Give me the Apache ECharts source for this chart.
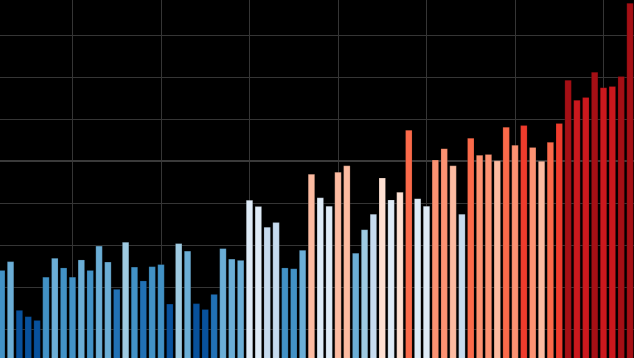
<!DOCTYPE html>
<html>
<head>
<meta charset="utf-8">
<style>
html,body{margin:0;padding:0;background:#000;width:634px;height:358px;overflow:hidden;position:relative;}
#chart{position:absolute;left:-16px;top:-7px;width:708px;height:378px;}
</style>
<script src="https://cdn.jsdelivr.net/npm/echarts@6/dist/echarts.min.js"></script>
</head>
<body>
<div id="chart"></div>
<script>
// Years shown (one bar per year)
const years = [];
for (let y = 1952; y <= 2023; y++) years.push(y);

// Annual mean temperature (°C)
const temps = [
  13.740, 13.761, 13.645, 13.630, 13.621, 13.724, 13.769, 13.746, 13.724, 13.765,
  13.740, 13.798, 13.760, 13.695, 13.807, 13.748, 13.715, 13.749, 13.754, 13.660,
  13.804, 13.786, 13.661, 13.647, 13.683, 13.792, 13.767, 13.764, 13.907, 13.892,
  13.843, 13.854, 13.746, 13.744, 13.788, 13.969, 13.913, 13.893, 13.974, 13.989,
  13.781, 13.837, 13.874, 13.960, 13.908, 13.926, 14.074, 13.911, 13.893, 14.003,
  14.030, 13.989, 13.874, 14.055, 14.014, 14.016, 14.001, 14.081, 14.038, 14.085,
  14.033, 14.000, 14.045, 14.090, 14.193, 14.145, 14.152, 14.212, 14.175, 14.178,
  14.202, 14.376
];

// Colour classes (stripe palette) and their temperature bounds
const classBounds = [13.665, 13.72, 13.757, 13.8, 13.84, 13.88, 13.92, 13.965, 14.002, 14.04, 14.083, 14.14, 14.19];
const classColors = ['#08519c', '#2171b5', '#4292c6', '#6baed6', '#9ecae1', '#c6dbef', '#deebf7',
                     '#fee0d2', '#fcbba1', '#fc9272', '#fb6a4a', '#ef3b2c', '#cb181d', '#a50f15'];

const pieces = classColors.map((c, i) => {
  const p = { color: c };
  if (i > 0) p.gte = classBounds[i - 1];
  if (i < classBounds.length) p.lt = classBounds[i];
  return p;
});

const chart = echarts.init(document.getElementById('chart'), null, { renderer: 'canvas' });
chart.setOption({
  backgroundColor: '#000',
  animation: false,
  grid: { left: 0, right: 0, top: 0, bottom: 0, containLabel: false },
  xAxis: {
    type: 'value', min: 1950, max: 2030, interval: 10,
    axisLine: { show: false }, axisTick: { show: false }, axisLabel: { show: false },
    splitLine: { show: true, lineStyle: { color: '#353535', width: 1 } }
  },
  yAxis: {
    type: 'value', min: 13.5, max: 14.4, interval: 0.1,
    axisLine: { show: false }, axisTick: { show: false }, axisLabel: { show: false },
    splitLine: { show: true, lineStyle: { color: '#353535', width: 1 } }
  },
  visualMap: {
    type: 'piecewise', show: false, dimension: 1, seriesIndex: 0,
    pieces: pieces
  },
  series: [{
    type: 'bar',
    barWidth: 7,
    data: years.map((y, i) => [y, temps[i]]),
    itemStyle: { borderColor: 'rgba(0,0,0,0.35)', borderWidth: 0.5 },
    markLine: {
      silent: true, symbol: 'none', z: 1,
      label: { show: false },
      lineStyle: { color: '#3a3a3a', width: 2, type: 'solid' },
      data: [{ yAxis: 14.0 }]
    }
  }]
});
</script>
</body>
</html>
